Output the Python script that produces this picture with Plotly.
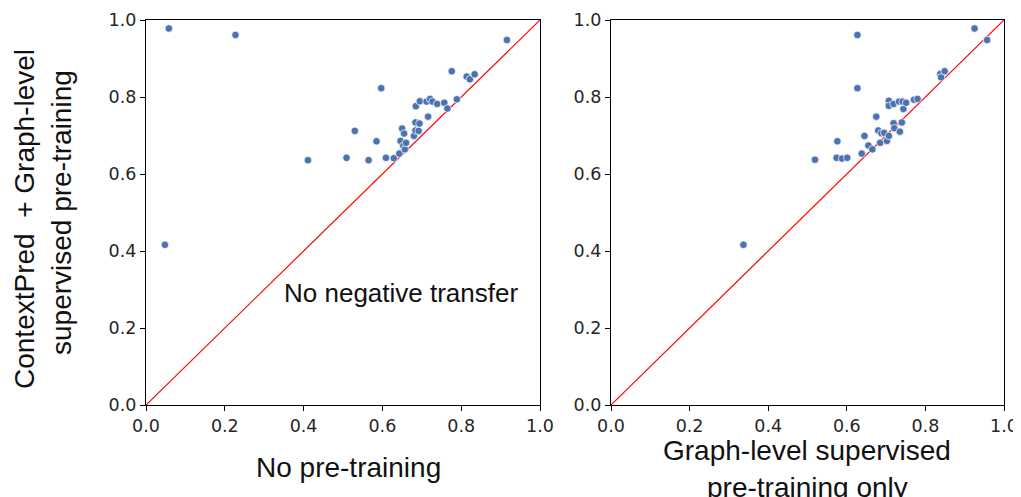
import plotly.graph_objects as go

# Left panel: No pre-training (x) vs ContextPred + Graph-level supervised (y)
left_x = [0.058, 0.227, 0.048, 0.411, 0.509, 0.530, 0.565, 0.585, 0.597, 0.609,
          0.629, 0.643, 0.646, 0.650, 0.655, 0.653, 0.657, 0.660, 0.680, 0.684,
          0.692, 0.684, 0.694, 0.685, 0.695, 0.712, 0.721, 0.727, 0.739, 0.716,
          0.757, 0.765, 0.789, 0.776, 0.814, 0.822, 0.834, 0.916]
left_y = [0.978, 0.961, 0.416, 0.636, 0.642, 0.712, 0.636, 0.685, 0.823, 0.642,
          0.641, 0.653, 0.686, 0.718, 0.705, 0.673, 0.664, 0.681, 0.699, 0.713,
          0.712, 0.734, 0.731, 0.776, 0.789, 0.788, 0.795, 0.788, 0.782, 0.749,
          0.785, 0.770, 0.794, 0.867, 0.853, 0.846, 0.859, 0.948]

# Right panel: Graph-level supervised only (x) vs ContextPred + Graph-level (y)
right_x = [0.337, 0.519, 0.576, 0.574, 0.588, 0.601, 0.627, 0.627, 0.638, 0.645,
           0.655, 0.665, 0.675, 0.680, 0.688, 0.685, 0.695, 0.702, 0.707, 0.707,
           0.707, 0.719, 0.719, 0.721, 0.735, 0.733, 0.740, 0.742, 0.744, 0.751,
           0.771, 0.780, 0.838, 0.840, 0.849, 0.925, 0.957]
right_y = [0.416, 0.637, 0.685, 0.642, 0.640, 0.642, 0.823, 0.961, 0.653, 0.699,
           0.674, 0.664, 0.749, 0.713, 0.706, 0.681, 0.707, 0.686, 0.699, 0.790,
           0.777, 0.782, 0.732, 0.719, 0.710, 0.788, 0.734, 0.788, 0.769, 0.785,
           0.793, 0.795, 0.860, 0.851, 0.867, 0.978, 0.948]

diagonal = [0.0, 1.0]
tick_vals = [0.0, 0.2, 0.4, 0.6, 0.8, 1.0]
tick_text = ["0.0", "0.2", "0.4", "0.6", "0.8", "1.0"]

y_title_1 = "ContextPred\u00a0\u00a0+ Graph-level"
y_title_2 = "supervised pre-training"
left_x_title = "No pre-training"
right_x_title_1 = "Graph-level supervised"
right_x_title_2 = "pre-training only"
note_text = "No negative transfer"

# The page body has an 8px margin, so the figure is sized to end at the window edge
OFF = 8
W, H = 1021 - OFF, 497 - OFF
BLUE = "#4c72b0"
TITLE_FONT = dict(family="Liberation Sans, Arial, sans-serif", size=28, color="#111111")
TICK_FONT = dict(family="DejaVu Sans, sans-serif", size=17.5, color="#262626")

fig = go.Figure()

marker = dict(color=BLUE, size=7.5, line=dict(color="white", width=0.7))

fig.add_trace(go.Scatter(x=diagonal, y=diagonal, mode="lines",
                         line=dict(color="#ff0000", width=1.2), xaxis="x", yaxis="y",
                         showlegend=False, hoverinfo="skip"))
fig.add_trace(go.Scatter(x=left_x, y=left_y, mode="markers", marker=marker,
                         xaxis="x", yaxis="y", showlegend=False, cliponaxis=False))
fig.add_trace(go.Scatter(x=diagonal, y=diagonal, mode="lines",
                         line=dict(color="#ff0000", width=1.2), xaxis="x2", yaxis="y2",
                         showlegend=False, hoverinfo="skip"))
fig.add_trace(go.Scatter(x=right_x, y=right_y, mode="markers", marker=marker,
                         xaxis="x2", yaxis="y2", showlegend=False, cliponaxis=False))

def px_x(p):
    # screen pixel -> paper fraction
    return (p - OFF) / W

def px_y(p):
    return (H - (p - OFF)) / H

y_dom = [px_y(405), px_y(20)]

axis_common = dict(range=[0, 1], tickvals=tick_vals, ticktext=tick_text,
                   showgrid=False, zeroline=False, showline=True, mirror=True,
                   linecolor="black", linewidth=1.2, ticks="outside", ticklen=5,
                   tickwidth=1.2, tickcolor="black", tickfont=TICK_FONT,
                   automargin=False)

fig.update_layout(
    width=W, height=H,
    margin=dict(l=0, r=0, t=0, b=0, autoexpand=False),
    paper_bgcolor="white", plot_bgcolor="white",
    xaxis=dict(domain=[px_x(146), px_x(540)], anchor="y", **axis_common),
    yaxis=dict(domain=y_dom, anchor="x", **axis_common),
    xaxis2=dict(domain=[px_x(611), px_x(1004)], anchor="y2", **axis_common),
    yaxis2=dict(domain=y_dom, anchor="x2", **axis_common),
)

annotations = [
    dict(text=note_text, x=0.647, y=0.29, xref="x", yref="y", showarrow=False,
         xanchor="center", yanchor="middle",
         font=dict(family="Liberation Sans, Arial, sans-serif", size=26, color="#111111")),
    dict(text=left_x_title, x=px_x(348), y=px_y(467), xref="paper", yref="paper",
         showarrow=False, xanchor="center", yanchor="middle", font=TITLE_FONT),
    dict(text=right_x_title_1, x=px_x(807), y=px_y(450), xref="paper", yref="paper",
         showarrow=False, xanchor="center", yanchor="middle", font=TITLE_FONT),
    dict(text=right_x_title_2, x=px_x(807), y=px_y(487), xref="paper", yref="paper",
         showarrow=False, xanchor="center", yanchor="middle", font=TITLE_FONT),
    dict(text=y_title_1, x=px_x(24), y=px_y(219), xref="paper", yref="paper",
         showarrow=False, xanchor="center", yanchor="middle", textangle=-90, font=TITLE_FONT),
    dict(text=y_title_2, x=px_x(61), y=px_y(213), xref="paper", yref="paper",
         showarrow=False, xanchor="center", yanchor="middle", textangle=-90, font=TITLE_FONT),
]
fig.update_layout(annotations=annotations)

fig.write_html("out.html")
